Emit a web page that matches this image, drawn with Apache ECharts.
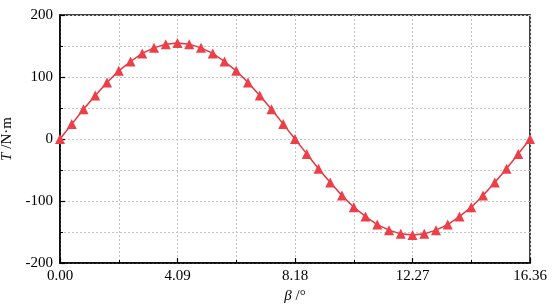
<!DOCTYPE html>
<html><head><meta charset="utf-8">
<script src="https://cdn.jsdelivr.net/npm/echarts@6/dist/echarts.min.js"></script>
<style>html,body{margin:0;padding:0;background:#fff}#c{width:554px;height:306px}</style>
</head><body><div id="c"></div>
<script>
const betaValues = [0, 0.409, 0.818, 1.227, 1.636, 2.045, 2.454, 2.863, 3.272, 3.681, 4.09, 4.499, 4.908, 5.317, 5.726, 6.135, 6.544, 6.953, 7.362, 7.771, 8.18, 8.589, 8.998, 9.407, 9.816, 10.225, 10.634, 11.043, 11.452, 11.861, 12.27, 12.679, 13.088, 13.497, 13.906, 14.315, 14.724, 15.133, 15.542, 15.951, 16.36];
const torqueValues = [0, 24, 48, 70, 91, 110, 125, 138, 147, 153, 155, 153, 147, 138, 125, 110, 91, 70, 48, 24, 0, -24, -48, -70, -91, -110, -125, -138, -147, -153, -155, -153, -147, -138, -125, -110, -91, -70, -48, -24, 0];
const xTickLabels = ['0.00', '4.09', '8.18', '12.27', '16.36'];
const yTickLabels = ['-200', '-100', '0', '100', '200'];

const font = 'Liberation Serif, Times New Roman, serif';
const chart = echarts.init(document.getElementById('c'));
const dash = {type: [2, 2], color: '#c4c4c4', width: 1};
chart.setOption({
  animation: false,
  grid: {left: 60, right: 24, top: 15, bottom: 43, containLabel: false, outerBoundsMode: 'none',
    show: true, borderColor: '#000', borderWidth: 1.5, backgroundColor: 'transparent'},
  xAxis: {
    type: 'value', min: 0, max: 16.36, interval: 4.09,
    axisLine: {onZero: false, lineStyle: {color: '#000', width: 1.5}},
    axisTick: {inside: true, length: 5, lineStyle: {color: '#000', width: 1.2}},
    minorTick: {show: true, splitNumber: 2, length: 3, lineStyle: {color: '#000', width: 1}},
    splitLine: {show: true, lineStyle: dash},
    minorSplitLine: {show: true, lineStyle: dash},
    axisLabel: {color: '#000', fontFamily: font, fontSize: 15, margin: 6,
      formatter: (v) => { const i = Math.round(v / 4.09); return xTickLabels[i] !== undefined ? xTickLabels[i] : ''; }},
    name: '{i|β} /°', nameLocation: 'middle', nameGap: 20,
    nameTextStyle: {color: '#000', fontFamily: font, fontSize: 15,
      rich: {i: {fontStyle: 'italic', fontFamily: font, fontSize: 15, color: '#000'}}}
  },
  yAxis: {
    type: 'value', min: -200, max: 200, interval: 100,
    axisLine: {onZero: false, lineStyle: {color: '#000', width: 1.5}},
    axisTick: {inside: true, length: 5, lineStyle: {color: '#000', width: 1.2}},
    minorTick: {show: true, splitNumber: 2, length: 3, lineStyle: {color: '#000', width: 1}},
    splitLine: {show: true, lineStyle: dash},
    minorSplitLine: {show: true, lineStyle: dash},
    axisLabel: {color: '#000', fontFamily: font, fontSize: 15, margin: 7,
      formatter: (v) => { const i = Math.round((v + 200) / 100); return yTickLabels[i] !== undefined ? yTickLabels[i] : ''; }},
    name: '{i|T} /N·m', nameLocation: 'middle', nameGap: 41, nameRotate: 90,
    nameTextStyle: {color: '#000', fontFamily: font, fontSize: 15,
      rich: {i: {fontStyle: 'italic', fontFamily: font, fontSize: 15, color: '#000'}}}
  },
  series: [{
    type: 'line',
    data: betaValues.map((b, i) => [b, torqueValues[i]]),
    smooth: false,
    symbol: 'triangle', symbolSize: 10,
    lineStyle: {color: '#e8323c', width: 1.5},
    itemStyle: {color: '#ec3f48'},
    clip: true
  }]
});
</script></body></html>
